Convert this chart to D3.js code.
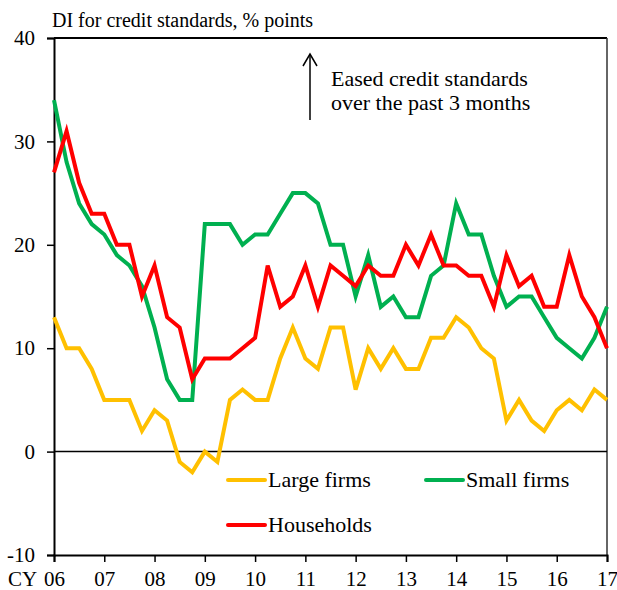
<!DOCTYPE html>
<meta charset="utf-8">
<title>DI for credit standards</title>
<style>
  body { margin: 0; background: #fff; }
  text { font-family: "Liberation Serif", "Times New Roman", serif; fill: #000; }
</style>
<body>
<div id="chart"></div>
<script src="https://d3js.org/d3.v7.min.js"></script>
<script>

// quarterly values, CY06 Q1 .. CY17 Q1
var largeFirms = [13,10,10,8,5,5,5,2,4,3,-1,-2,0,-1,5,6,5,5,9,12,9,8,12,12,6,10,8,10,8,8,11,11,13,12,10,9,3,5,3,2,4,5,4,6,5];
var smallFirms = [34,28,24,22,21,19,18,16,12,7,5,5,22,22,22,20,21,21,23,25,25,24,20,20,15,19,14,15,13,13,17,18,24,21,21,17,14,15,15,13,11,10,9,11,14];
var households = [27,31,26,23,23,20,20,15,18,13,12,7,9,9,9,10,11,18,14,15,18,14,18,17,16,18,17,17,20,18,21,18,18,17,17,14,19,16,17,14,14,19,15,13,10];

var yearLabels = ["06","07","08","09","10","11","12","13","14","15","16","17"];
var yTicks = [-10, 0, 10, 20, 30, 40];

var series = [
  {name: "Large firms", values: largeFirms, color: "#FFC000"},
  {name: "Small firms", values: smallFirms, color: "#00B050"},
  {name: "Households", values: households, color: "#FF0000"}
];

var W = 617, H = 590;
var margin = {top: 38, right: 10, bottom: 35, left: 54};
var width = W - margin.left - margin.right,
    height = H - margin.top - margin.bottom;

var svg = d3.select("#chart").append("svg")
    .attr("width", W).attr("height", H);

var g = svg.append("g")
    .attr("transform", "translate(" + margin.left + "," + margin.top + ")");

// x in quarters from start of CY06
var x = d3.scaleLinear().domain([0, 44]).range([0, width]);
var y = d3.scaleLinear().domain([-10, 40]).range([height, 0]);

// frame: top and right
g.append("line").attr("x1", 0).attr("x2", width).attr("y1", 0).attr("y2", 0)
    .attr("stroke", "#000").attr("stroke-width", 2);
g.append("line").attr("x1", width).attr("x2", width).attr("y1", 0).attr("y2", height)
    .attr("stroke", "#333").attr("stroke-width", 1.5);

// zero line
g.append("line").attr("x1", 0).attr("x2", width).attr("y1", y(0)).attr("y2", y(0))
    .attr("stroke", "#000").attr("stroke-width", 1.5);

// y axis
var yAxis = d3.axisLeft(y).tickValues(yTicks).tickSize(7).tickPadding(12)
    .tickFormat(function (d) { return String(d); });
var ya = g.append("g").call(yAxis);
ya.select(".domain").attr("stroke-width", 2);
ya.selectAll(".tick line").attr("stroke-width", 1.5);
ya.selectAll("text").style("font-size", "21px").attr("fill", "#000");

// x axis
var xAxis = d3.axisBottom(x)
    .tickValues(d3.range(0, 45, 4))
    .tickFormat(function (d) { return yearLabels[d / 4]; })
    .tickSize(7).tickPadding(9);
var xa = g.append("g").attr("transform", "translate(0," + height + ")").call(xAxis);
xa.select(".domain").attr("stroke-width", 2);
xa.selectAll(".tick line").attr("stroke-width", 1.5);
xa.selectAll("text").style("font-size", "21px").attr("fill", "#000");

svg.append("text").attr("x", 8).attr("y", 586).style("font-size", "21px").text("CY");

// lines
var line = d3.line()
    .x(function (d, i) { return x(i); })
    .y(function (d) { return y(d); });

series.forEach(function (s) {
  g.append("path")
      .datum(s.values)
      .attr("d", line)
      .attr("fill", "none")
      .attr("stroke", s.color)
      .attr("stroke-width", 4)
      .attr("stroke-linejoin", "miter");
});

// title
svg.append("text").attr("x", 52).attr("y", 27).style("font-size", "20px")
    .text("DI for credit standards, % points");

// annotation arrow
svg.append("line").attr("x1", 310).attr("x2", 310).attr("y1", 120).attr("y2", 55)
    .attr("stroke", "#000").attr("stroke-width", 1.5);
svg.append("path").attr("d", "M303,66 L310,54 L317,66")
    .attr("fill", "none").attr("stroke", "#000").attr("stroke-width", 1.5);
svg.append("text").attr("x", 331).attr("y", 86).style("font-size", "22px")
    .text("Eased credit standards");
svg.append("text").attr("x", 331).attr("y", 110).style("font-size", "22px")
    .text("over the past 3 months");

// legend
var legendPos = [
  {x: 228, y: 480},
  {x: 426, y: 480},
  {x: 228, y: 525}
];
series.forEach(function (s, i) {
  var p = legendPos[i];
  svg.append("line").attr("x1", p.x).attr("x2", p.x + 37).attr("y1", p.y).attr("y2", p.y)
      .attr("stroke", s.color).attr("stroke-width", 4).attr("stroke-linecap", "round");
  svg.append("text").attr("x", p.x + 40).attr("y", p.y + 7).style("font-size", "22px")
      .text(s.name);
});

</script>
</body>
